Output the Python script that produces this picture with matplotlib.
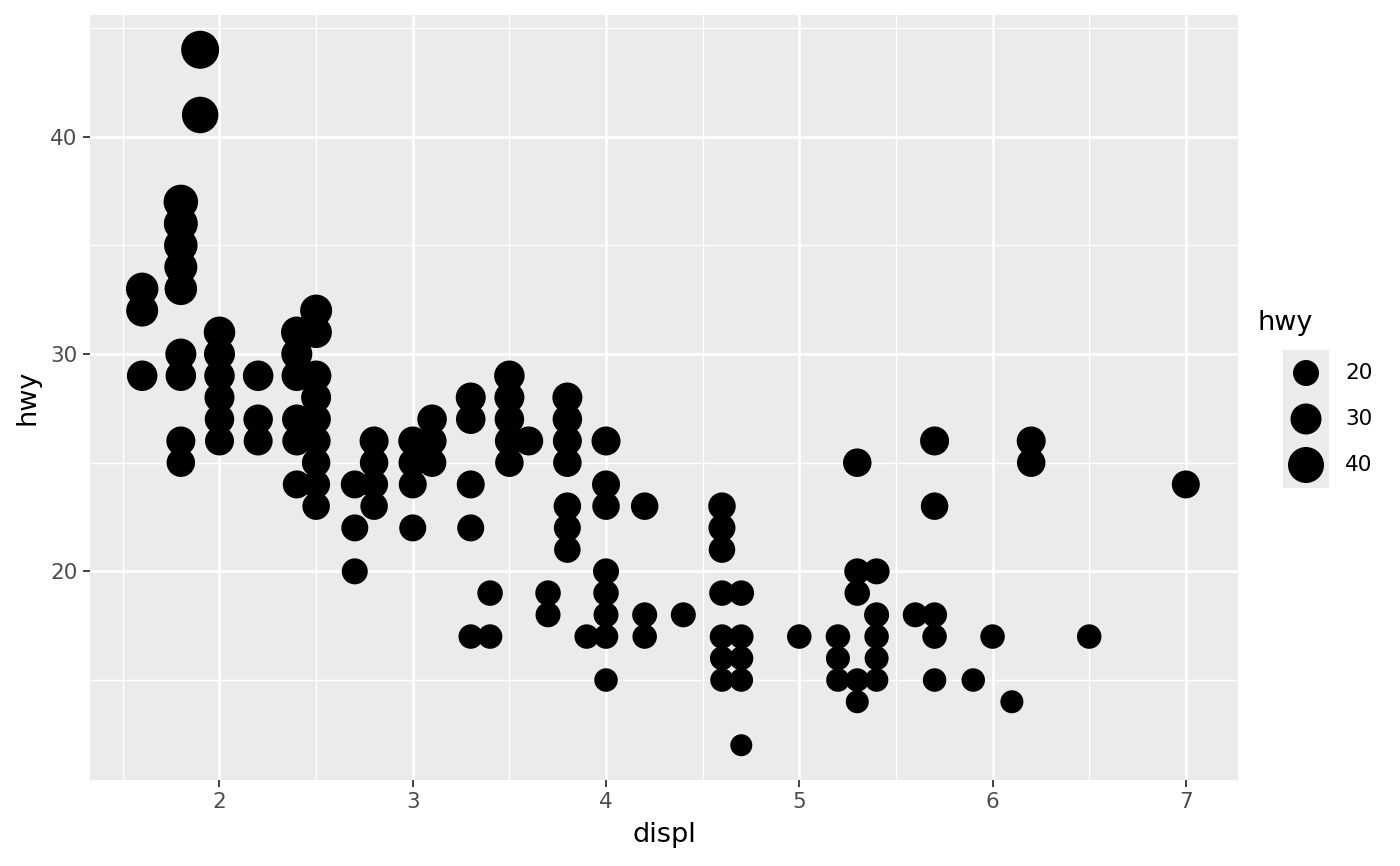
import matplotlib
matplotlib.use("Agg")
import matplotlib.pyplot as plt
import numpy as np

# (displ, hwy) pairs
displ_groups = {
    1.6: [33, 32, 29],
    1.8: [37, 36, 35, 34, 33, 30, 29, 26, 25],
    1.9: [44, 41],
    2.0: [31, 30, 29, 28, 27, 26],
    2.2: [29, 27, 26],
    2.4: [31, 30, 29, 27, 26, 24],
    2.5: [32, 31, 29, 28, 27, 26, 25, 24, 23],
    2.7: [24, 22, 20],
    2.8: [26, 25, 24, 23],
    3.0: [26, 25, 24, 22],
    3.1: [27, 26, 25],
    3.3: [28, 27, 24, 22, 17],
    3.4: [19, 17],
    3.5: [29, 28, 27, 26, 25],
    3.6: [26],
    3.7: [19, 18],
    3.8: [28, 27, 26, 25, 23, 22, 21],
    3.9: [17],
    4.0: [26, 24, 23, 20, 19, 18, 17, 15],
    4.2: [23, 18, 17],
    4.4: [18],
    4.6: [23, 22, 21, 19, 17, 16, 15],
    4.7: [19, 17, 16, 15, 12],
    5.0: [17],
    5.2: [17, 16, 15],
    5.3: [25, 20, 19, 15, 14],
    5.4: [20, 18, 17, 16, 15],
    5.6: [18],
    5.7: [26, 23, 18, 17, 15],
    5.9: [15],
    6.0: [17],
    6.1: [14],
    6.2: [26, 25],
    6.5: [17],
    7.0: [24],
}
displ = [d for d, hs in displ_groups.items() for _ in hs]
hwy = [h for hs in displ_groups.values() for h in hs]

x_ticks = [2, 3, 4, 5, 6, 7]
y_ticks = [20, 30, 40]
legend_breaks = [20, 30, 40]

W, H = 1400, 866
DPI = 100

def size_of(v):
    d_px = 22 + 0.5 * (np.asarray(v, dtype=float) - 12)
    return (d_px * 72 / DPI) ** 2

fig = plt.figure(figsize=(W / DPI, H / DPI), dpi=DPI)
fig.patch.set_facecolor("white")

L, R, T, B = 90, 1238, 15, 780
ax = fig.add_axes([L / W, 1 - B / H, (R - L) / W, (B - T) / H])
ax.set_facecolor("#EBEBEB")
for s in ax.spines.values():
    s.set_visible(False)

xmin, xmax = min(displ), max(displ)
ymin, ymax = min(hwy), max(hwy)
xr, yr = xmax - xmin, ymax - ymin
ax.set_xlim(xmin - 0.05 * xr, xmax + 0.05 * xr)
ax.set_ylim(ymin - 0.05 * yr, ymax + 0.05 * yr)

# grid
for xm in np.arange(1.5, 7.01, 1.0):
    ax.axvline(xm, color="white", lw=1.0, zorder=0)
for ym in [15, 25, 35, 45]:
    ax.axhline(ym, color="white", lw=1.0, zorder=0)
for xt in x_ticks:
    ax.axvline(xt, color="white", lw=1.9, zorder=0)
for yt in y_ticks:
    ax.axhline(yt, color="white", lw=1.9, zorder=0)

ax.scatter(displ, hwy, s=size_of(hwy), c="black", linewidths=0, zorder=3)

ax.set_xticks(x_ticks)
ax.set_yticks(y_ticks)
ax.set_xticklabels([str(t) for t in x_ticks])
ax.set_yticklabels([str(t) for t in y_ticks])
ax.tick_params(axis="both", colors="#333333", labelcolor="#4D4D4D",
               labelsize=15.5, length=5, width=1.3, pad=4)
ax.set_xlabel("displ", fontsize=19.5, color="black", labelpad=7)
ax.set_ylabel("hwy", fontsize=19.5, color="black", labelpad=7)

# legend
kx0, kx1, ky0, ky1 = 1283, 1329, 350, 488
lax = fig.add_axes([kx0 / W, 1 - ky1 / H, (kx1 - kx0) / W, (ky1 - ky0) / H])
lax.set_facecolor("#EBEBEB")
for s in lax.spines.values():
    s.set_visible(False)
lax.set_xticks([]); lax.set_yticks([])
lax.set_xlim(0, 1); lax.set_ylim(0, len(legend_breaks))
ypos = [len(legend_breaks) - 0.5 - i for i in range(len(legend_breaks))]
lax.scatter([0.5] * len(legend_breaks), ypos, s=size_of(legend_breaks),
            c="black", linewidths=0, clip_on=False)
for yp, lab in zip(ypos, legend_breaks):
    fig.text(1345 / W, 1 - (ky1 - (ky1 - ky0) * yp / len(legend_breaks)) / H,
             str(lab), fontsize=15.5, color="black", va="center", ha="left")
fig.text(1257 / W, 1 - 323 / H, "hwy", fontsize=19.5, color="black",
         va="center", ha="left")

fig.savefig("out.png", dpi=DPI)
